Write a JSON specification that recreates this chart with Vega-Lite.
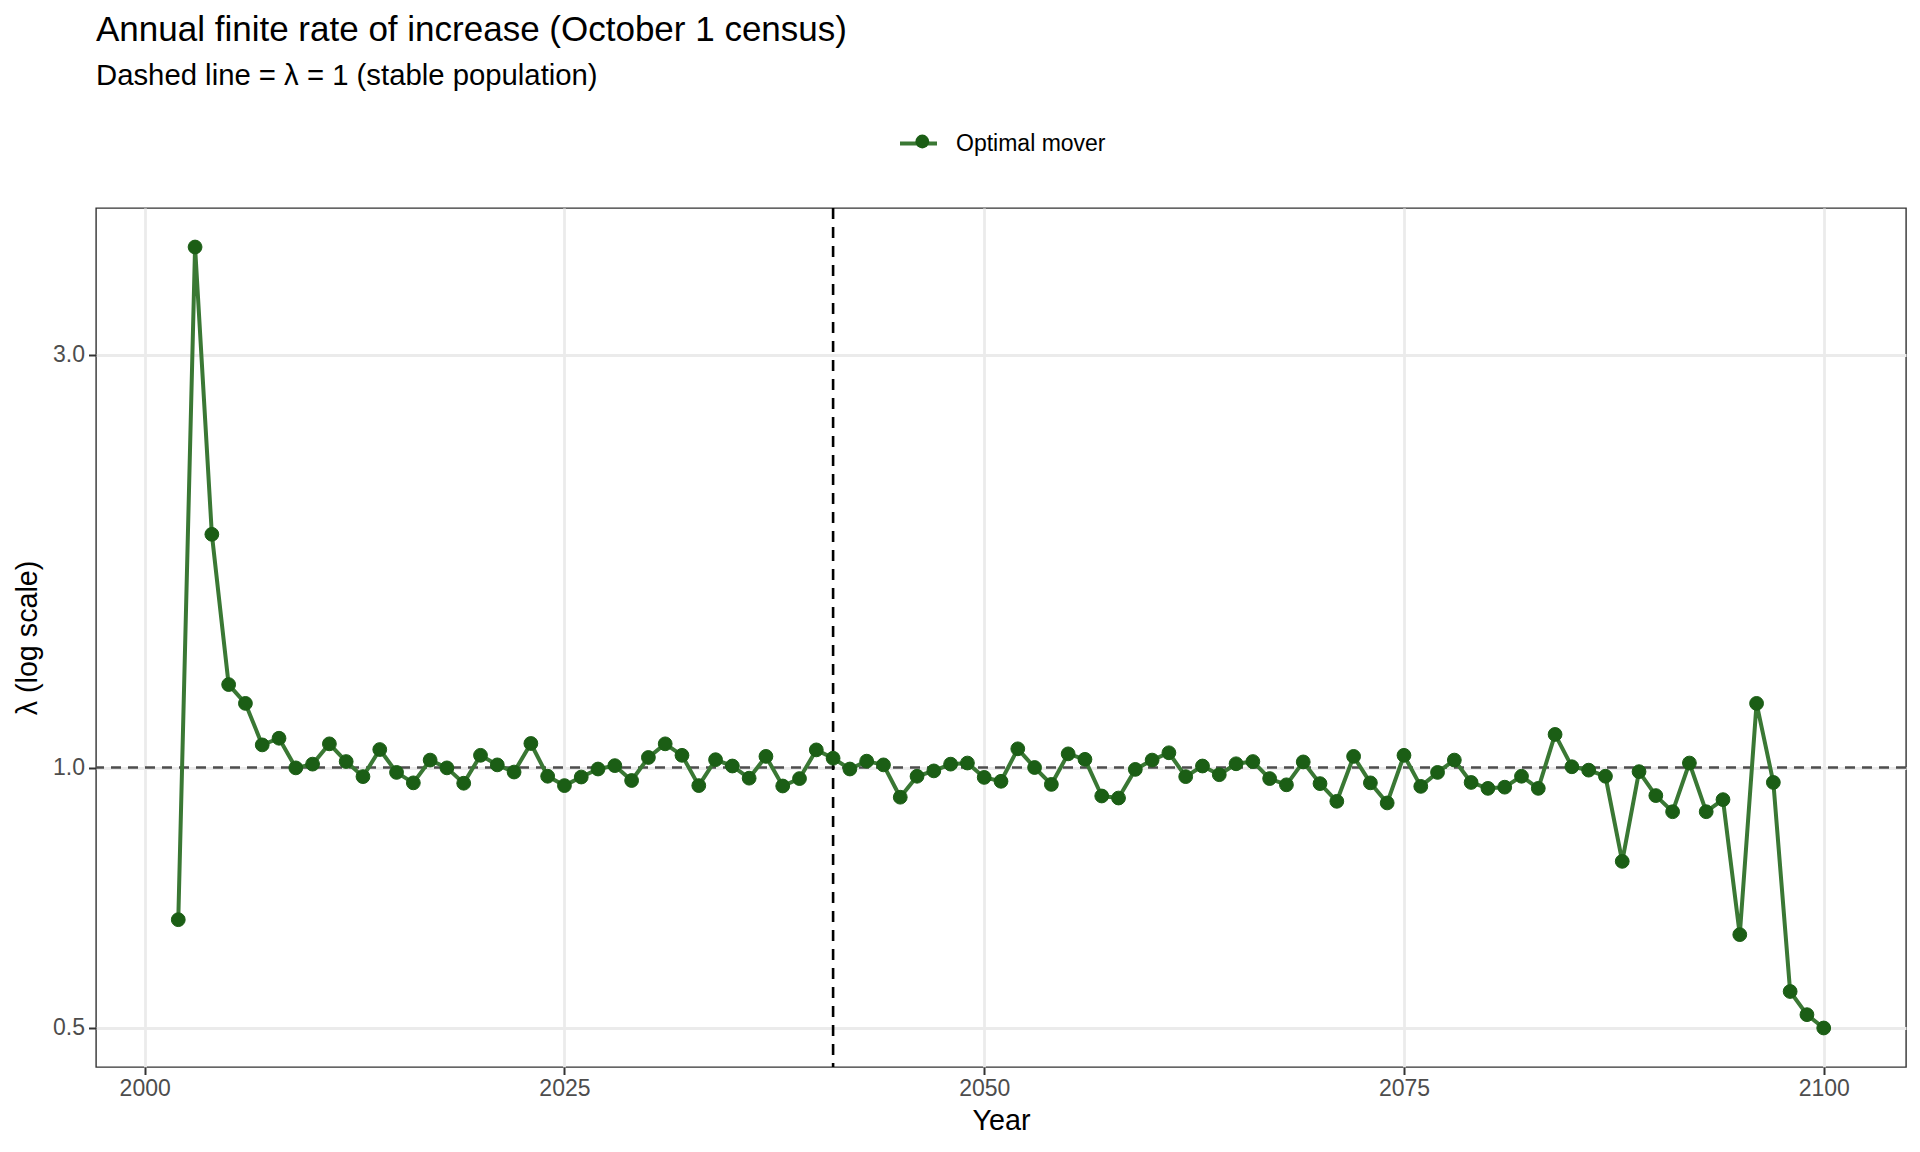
{
  "$schema": "https://vega.github.io/schema/vega-lite/v6.json",
  "width": 1810,
  "height": 859,
  "autosize": {"type": "none"},
  "padding": {"left": 96, "top": 208, "right": 14, "bottom": 85},
  "background": "white",
  "config": {
    "font": "Liberation Sans",
    "view": {"stroke": "#333333", "strokeWidth": 1.4},
    "axis": {
      "grid": true,
      "gridColor": "#EBEBEB",
      "gridWidth": 2.8,
      "domain": false,
      "tickColor": "#333333",
      "tickWidth": 2,
      "tickSize": 7.5,
      "labelFont": "Liberation Sans",
      "labelFontSize": 23,
      "labelColor": "#4D4D4D",
      "titleFont": "Liberation Sans",
      "titleFontSize": 28.7,
      "titleFontWeight": "normal",
      "titleColor": "#000000"
    },
    "legend": {
      "padding": 0,
      "labelFont": "Liberation Sans",
      "labelFontSize": 23,
      "labelColor": "#000000"
    }
  },
  "title": {
    "text": "Annual finite rate of increase (October 1 census)",
    "subtitle": "Dashed line = λ = 1 (stable population)",
    "anchor": "start",
    "frame": "group",
    "font": "Liberation Sans",
    "fontSize": 35,
    "fontWeight": "normal",
    "color": "#000000",
    "subtitleFont": "Liberation Sans",
    "subtitleFontSize": 29.3,
    "subtitleColor": "#000000",
    "subtitlePadding": 14,
    "offset": 32
  },
  "datasets": {
    "main": [
      {"year": 2002, "lambda": 0.667, "series": "Optimal mover"},
      {"year": 2003, "lambda": 3.995, "series": "Optimal mover"},
      {"year": 2004, "lambda": 1.860, "series": "Optimal mover"},
      {"year": 2005, "lambda": 1.247, "series": "Optimal mover"},
      {"year": 2006, "lambda": 1.186, "series": "Optimal mover"},
      {"year": 2007, "lambda": 1.062, "series": "Optimal mover"},
      {"year": 2008, "lambda": 1.081, "series": "Optimal mover"},
      {"year": 2009, "lambda": 0.999, "series": "Optimal mover"},
      {"year": 2010, "lambda": 1.009, "series": "Optimal mover"},
      {"year": 2011, "lambda": 1.065, "series": "Optimal mover"},
      {"year": 2012, "lambda": 1.016, "series": "Optimal mover"},
      {"year": 2013, "lambda": 0.976, "series": "Optimal mover"},
      {"year": 2014, "lambda": 1.049, "series": "Optimal mover"},
      {"year": 2015, "lambda": 0.987, "series": "Optimal mover"},
      {"year": 2016, "lambda": 0.960, "series": "Optimal mover"},
      {"year": 2017, "lambda": 1.020, "series": "Optimal mover"},
      {"year": 2018, "lambda": 0.999, "series": "Optimal mover"},
      {"year": 2019, "lambda": 0.959, "series": "Optimal mover"},
      {"year": 2020, "lambda": 1.033, "series": "Optimal mover"},
      {"year": 2021, "lambda": 1.007, "series": "Optimal mover"},
      {"year": 2022, "lambda": 0.988, "series": "Optimal mover"},
      {"year": 2023, "lambda": 1.066, "series": "Optimal mover"},
      {"year": 2024, "lambda": 0.977, "series": "Optimal mover"},
      {"year": 2025, "lambda": 0.953, "series": "Optimal mover"},
      {"year": 2026, "lambda": 0.975, "series": "Optimal mover"},
      {"year": 2027, "lambda": 0.996, "series": "Optimal mover"},
      {"year": 2028, "lambda": 1.005, "series": "Optimal mover"},
      {"year": 2029, "lambda": 0.966, "series": "Optimal mover"},
      {"year": 2030, "lambda": 1.027, "series": "Optimal mover"},
      {"year": 2031, "lambda": 1.065, "series": "Optimal mover"},
      {"year": 2032, "lambda": 1.033, "series": "Optimal mover"},
      {"year": 2033, "lambda": 0.953, "series": "Optimal mover"},
      {"year": 2034, "lambda": 1.021, "series": "Optimal mover"},
      {"year": 2035, "lambda": 1.004, "series": "Optimal mover"},
      {"year": 2036, "lambda": 0.972, "series": "Optimal mover"},
      {"year": 2037, "lambda": 1.030, "series": "Optimal mover"},
      {"year": 2038, "lambda": 0.952, "series": "Optimal mover"},
      {"year": 2039, "lambda": 0.971, "series": "Optimal mover"},
      {"year": 2040, "lambda": 1.048, "series": "Optimal mover"},
      {"year": 2041, "lambda": 1.025, "series": "Optimal mover"},
      {"year": 2042, "lambda": 0.996, "series": "Optimal mover"},
      {"year": 2043, "lambda": 1.017, "series": "Optimal mover"},
      {"year": 2044, "lambda": 1.007, "series": "Optimal mover"},
      {"year": 2045, "lambda": 0.924, "series": "Optimal mover"},
      {"year": 2046, "lambda": 0.977, "series": "Optimal mover"},
      {"year": 2047, "lambda": 0.991, "series": "Optimal mover"},
      {"year": 2048, "lambda": 1.009, "series": "Optimal mover"},
      {"year": 2049, "lambda": 1.012, "series": "Optimal mover"},
      {"year": 2050, "lambda": 0.974, "series": "Optimal mover"},
      {"year": 2051, "lambda": 0.964, "series": "Optimal mover"},
      {"year": 2052, "lambda": 1.051, "series": "Optimal mover"},
      {"year": 2053, "lambda": 1.000, "series": "Optimal mover"},
      {"year": 2054, "lambda": 0.956, "series": "Optimal mover"},
      {"year": 2055, "lambda": 1.037, "series": "Optimal mover"},
      {"year": 2056, "lambda": 1.022, "series": "Optimal mover"},
      {"year": 2057, "lambda": 0.927, "series": "Optimal mover"},
      {"year": 2058, "lambda": 0.922, "series": "Optimal mover"},
      {"year": 2059, "lambda": 0.995, "series": "Optimal mover"},
      {"year": 2060, "lambda": 1.020, "series": "Optimal mover"},
      {"year": 2061, "lambda": 1.040, "series": "Optimal mover"},
      {"year": 2062, "lambda": 0.976, "series": "Optimal mover"},
      {"year": 2063, "lambda": 1.004, "series": "Optimal mover"},
      {"year": 2064, "lambda": 0.981, "series": "Optimal mover"},
      {"year": 2065, "lambda": 1.010, "series": "Optimal mover"},
      {"year": 2066, "lambda": 1.016, "series": "Optimal mover"},
      {"year": 2067, "lambda": 0.971, "series": "Optimal mover"},
      {"year": 2068, "lambda": 0.955, "series": "Optimal mover"},
      {"year": 2069, "lambda": 1.015, "series": "Optimal mover"},
      {"year": 2070, "lambda": 0.958, "series": "Optimal mover"},
      {"year": 2071, "lambda": 0.914, "series": "Optimal mover"},
      {"year": 2072, "lambda": 1.030, "series": "Optimal mover"},
      {"year": 2073, "lambda": 0.960, "series": "Optimal mover"},
      {"year": 2074, "lambda": 0.910, "series": "Optimal mover"},
      {"year": 2075, "lambda": 1.033, "series": "Optimal mover"},
      {"year": 2076, "lambda": 0.951, "series": "Optimal mover"},
      {"year": 2077, "lambda": 0.987, "series": "Optimal mover"},
      {"year": 2078, "lambda": 1.020, "series": "Optimal mover"},
      {"year": 2079, "lambda": 0.961, "series": "Optimal mover"},
      {"year": 2080, "lambda": 0.946, "series": "Optimal mover"},
      {"year": 2081, "lambda": 0.949, "series": "Optimal mover"},
      {"year": 2082, "lambda": 0.977, "series": "Optimal mover"},
      {"year": 2083, "lambda": 0.946, "series": "Optimal mover"},
      {"year": 2084, "lambda": 1.092, "series": "Optimal mover"},
      {"year": 2085, "lambda": 1.002, "series": "Optimal mover"},
      {"year": 2086, "lambda": 0.993, "series": "Optimal mover"},
      {"year": 2087, "lambda": 0.977, "series": "Optimal mover"},
      {"year": 2088, "lambda": 0.779, "series": "Optimal mover"},
      {"year": 2089, "lambda": 0.989, "series": "Optimal mover"},
      {"year": 2090, "lambda": 0.928, "series": "Optimal mover"},
      {"year": 2091, "lambda": 0.889, "series": "Optimal mover"},
      {"year": 2092, "lambda": 1.012, "series": "Optimal mover"},
      {"year": 2093, "lambda": 0.889, "series": "Optimal mover"},
      {"year": 2094, "lambda": 0.918, "series": "Optimal mover"},
      {"year": 2095, "lambda": 0.641, "series": "Optimal mover"},
      {"year": 2096, "lambda": 1.186, "series": "Optimal mover"},
      {"year": 2097, "lambda": 0.961, "series": "Optimal mover"},
      {"year": 2098, "lambda": 0.551, "series": "Optimal mover"},
      {"year": 2099, "lambda": 0.518, "series": "Optimal mover"},
      {"year": 2100, "lambda": 0.500, "series": "Optimal mover"}
    ],
    "hline": [{"lambda": 1}],
    "vline": [{"year": 2041}]
  },
  "layer": [
    {
      "data": {"name": "hline"},
      "mark": {"type": "rule", "color": "#4D4D4D", "strokeWidth": 2.6, "strokeDash": [10, 7]},
      "encoding": {
        "y": {"field": "lambda", "type": "quantitative", "scale": {"type": "log", "domain": [0.4507, 4.432], "nice": false}}
      }
    },
    {
      "data": {"name": "vline"},
      "mark": {"type": "rule", "color": "#000000", "strokeWidth": 2.6, "strokeDash": [11, 8]},
      "encoding": {
        "x": {"field": "year", "type": "quantitative", "scale": {"domain": [1997.1, 2104.9], "nice": false, "zero": false}}
      }
    },
    {
      "data": {"name": "main"},
      "mark": {"type": "line", "strokeWidth": 4, "strokeJoin": "round"},
      "encoding": {
        "x": {
          "field": "year", "type": "quantitative",
          "scale": {"domain": [1997.1, 2104.9], "nice": false, "zero": false},
          "axis": {"title": "Year", "values": [2000, 2025, 2050, 2075, 2100], "format": "d", "labelPadding": 3, "titlePadding": 6}
        },
        "y": {
          "field": "lambda", "type": "quantitative",
          "scale": {"type": "log", "domain": [0.4507, 4.432], "nice": false},
          "axis": {"title": "λ (log scale)", "values": [0.5, 1, 3], "format": ".1f", "labelPadding": 4, "titlePadding": 10}
        },
        "stroke": {
          "field": "series", "type": "nominal",
          "scale": {"range": ["#3A7834"]},
          "legend": {
            "title": null, "orient": "none", "legendX": 802, "legendY": -85,
            "symbolType": "stroke", "symbolSize": 1369, "symbolStrokeWidth": 4,
            "labelOffset": 17
          }
        }
      }
    },
    {
      "data": {"name": "main"},
      "mark": {"type": "point", "filled": true, "size": 190, "opacity": 1, "stroke": "#1B5E15", "strokeWidth": 1},
      "encoding": {
        "x": {"field": "year", "type": "quantitative", "scale": {"domain": [1997.1, 2104.9], "nice": false, "zero": false}},
        "y": {"field": "lambda", "type": "quantitative", "scale": {"type": "log", "domain": [0.4507, 4.432], "nice": false}},
        "fill": {
          "field": "series", "type": "nominal",
          "scale": {"range": ["#1B5E15"]},
          "legend": {
            "title": null, "orient": "none", "legendX": 814.8, "legendY": -78,
            "symbolType": "circle", "symbolSize": 190, "symbolOpacity": 1, "symbolStrokeWidth": 0,
            "labelExpr": "''"
          }
        }
      }
    }
  ]
}
